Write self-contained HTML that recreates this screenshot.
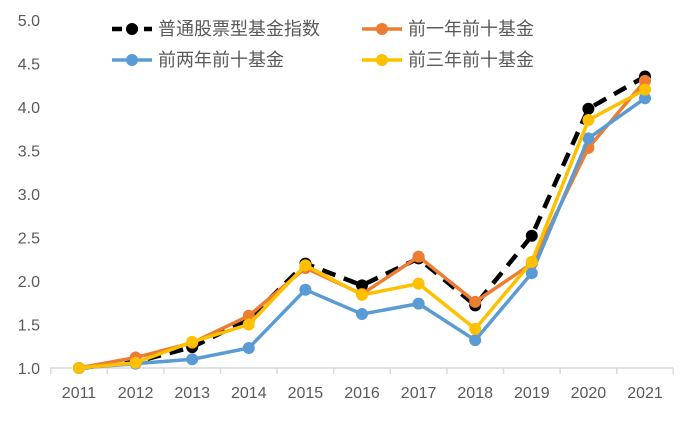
<!DOCTYPE html>
<html><head><meta charset="utf-8">
<style>
html,body{margin:0;padding:0;background:#fff;}
svg text{font-family:"Liberation Sans","Noto Sans CJK SC",sans-serif;fill:#595959;}
</style></head>
<body>
<svg id="chart" width="698" height="419" viewBox="0 0 698 419"></svg>
<script>
const categories=["2011","2012","2013","2014","2015","2016","2017","2018","2019","2020","2021"];
const yTicks=[1.0,1.5,2.0,2.5,3.0,3.5,4.0,4.5,5.0];
const seriesNames=["普通股票型基金指数","前一年前十基金","前两年前十基金","前三年前十基金"];
const indexValues=[1.0,1.07,1.24,1.56,2.2,1.95,2.26,1.72,2.52,3.98,4.35];
const prev1Values=[1.0,1.12,1.29,1.6,2.15,1.85,2.28,1.76,2.2,3.53,4.3];
const prev2Values=[1.0,1.05,1.1,1.23,1.9,1.62,1.74,1.32,2.09,3.64,4.1];
const prev3Values=[1.0,1.06,1.3,1.5,2.18,1.84,1.97,1.45,2.22,3.85,4.2];

const svg=document.getElementById('chart');
const NS='http://www.w3.org/2000/svg';
function mk(t,a){const e=document.createElementNS(NS,t);for(const k in a)e.setAttribute(k,a[k]);svg.appendChild(e);return e;}
const x0=79,dx=56.6,y0=368,ppu=87;
const xs=i=>x0+i*dx;
const ys=v=>y0-(v-1)*ppu;

yTicks.forEach(v=>{
  const t=mk('text',{x:40,y:ys(v)+6,'text-anchor':'end','font-size':'16'});
  t.textContent=v.toFixed(1);
  
  
});
const ax=mk('line',{x1:50,y1:y0,x2:673,y2:y0,stroke:'#d9d9d9','stroke-width':1.5});


for(let i=0;i<=categories.length;i++){
  const tx=xs(i)-dx/2;
  const tk=mk('line',{x1:tx,y1:y0,x2:tx,y2:y0+6,stroke:'#d9d9d9','stroke-width':1.5});
  
  
}
categories.forEach((c,i)=>{
  const t=mk('text',{x:xs(i),y:y0+30,'text-anchor':'middle','font-size':'16'});
  t.textContent=c;
  
  
});

const series=[
 {vals:indexValues,color:'#000',dash:'14,9',name:'series-index'},
 {vals:prev1Values,color:'#ed7d31',dash:null,name:'series-prev1'},
 {vals:prev2Values,color:'#5b9bd5',dash:null,name:'series-prev2'},
 {vals:prev3Values,color:'#ffc000',dash:null,name:'series-prev3'}
];
series.forEach(s=>{
  const pts=s.vals.map((v,i)=>xs(i)+','+ys(v)).join(' ');
  const a={points:pts,fill:'none',stroke:s.color,'stroke-width':s.dash?4.5:3.5,'stroke-linejoin':'round'};
  if(s.dash)a['stroke-dasharray']=s.dash;
  const pl=mk('polyline',a);
  
  
  s.vals.forEach((v,i)=>{
    const c=mk('circle',{cx:xs(i),cy:ys(v),r:6,fill:s.color});
    
    
  });
});

const legend=[
 {name:seriesNames[0],color:'#000',dash:'10,6',x:112,y:29},
 {name:seriesNames[1],color:'#ed7d31',dash:null,x:362,y:29},
 {name:seriesNames[2],color:'#5b9bd5',dash:null,x:112,y:60},
 {name:seriesNames[3],color:'#ffc000',dash:null,x:362,y:60}
];
legend.forEach(l=>{
  const a={x1:l.x,y1:l.y,x2:l.x+40,y2:l.y,stroke:l.color,'stroke-width':l.dash?4.5:3.5};
  if(l.dash)a['stroke-dasharray']=l.dash;
  const ln=mk('line',a);
  
  
  const c=mk('circle',{cx:l.x+20,cy:l.y,r:6,fill:l.color});
  
  
  const t=mk('text',{x:l.x+46,y:l.y+6,'font-size':'18'});
  t.textContent=l.name;
  
  
});
</script>
</body></html>
